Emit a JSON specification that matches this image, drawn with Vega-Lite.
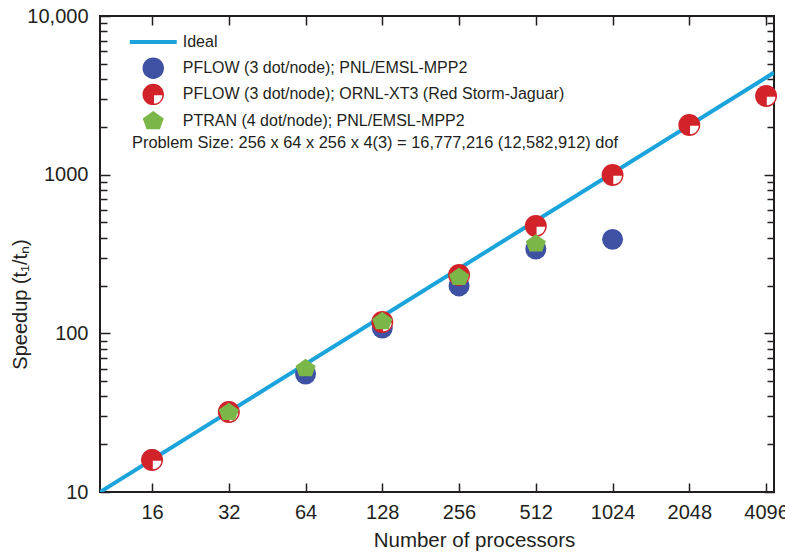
{
  "$schema": "https://vega.github.io/schema/vega-lite/v6.json",
  "width": 674,
  "height": 476,
  "autosize": {"type": "none"},
  "padding": {"left": 100, "top": 16, "right": 11, "bottom": 66},
  "background": "white",
  "config": {
    "font": "Liberation Sans",
    "view": {"stroke": "#231F20", "strokeWidth": 2},
    "axis": {"grid": false, "domain": false, "labelFont": "Liberation Sans", "titleFont": "Liberation Sans", "labelColor": "#231F20", "titleColor": "#231F20", "tickColor": "#231F20", "tickWidth": 1.5, "labelOverlap": false, "labelFlush": false, "labelBound": false, "titleFontWeight": "normal"}
  },
  "datasets": {
    "ideal": [
      {"series": "Ideal", "x": 10, "y": 10},
      {"series": "Ideal", "x": 4400, "y": 4400}
    ],
    "pts": [
      {"series": "PFLOW (3 dot/node); PNL/EMSL-MPP2", "x": 16, "y": 16},
      {"series": "PFLOW (3 dot/node); PNL/EMSL-MPP2", "x": 32, "y": 32},
      {"series": "PFLOW (3 dot/node); PNL/EMSL-MPP2", "x": 64, "y": 55.4},
      {"series": "PFLOW (3 dot/node); PNL/EMSL-MPP2", "x": 128, "y": 108},
      {"series": "PFLOW (3 dot/node); PNL/EMSL-MPP2", "x": 256, "y": 199},
      {"series": "PFLOW (3 dot/node); PNL/EMSL-MPP2", "x": 512, "y": 340},
      {"series": "PFLOW (3 dot/node); PNL/EMSL-MPP2", "x": 1024, "y": 391},
      {"series": "PFLOW (3 dot/node); ORNL-XT3 (Red Storm-Jaguar)", "x": 16, "y": 15.9},
      {"series": "PFLOW (3 dot/node); ORNL-XT3 (Red Storm-Jaguar)", "x": 32, "y": 31.9},
      {"series": "PFLOW (3 dot/node); ORNL-XT3 (Red Storm-Jaguar)", "x": 128, "y": 118},
      {"series": "PFLOW (3 dot/node); ORNL-XT3 (Red Storm-Jaguar)", "x": 256, "y": 233},
      {"series": "PFLOW (3 dot/node); ORNL-XT3 (Red Storm-Jaguar)", "x": 512, "y": 475},
      {"series": "PFLOW (3 dot/node); ORNL-XT3 (Red Storm-Jaguar)", "x": 1024, "y": 995},
      {"series": "PFLOW (3 dot/node); ORNL-XT3 (Red Storm-Jaguar)", "x": 2048, "y": 2056},
      {"series": "PFLOW (3 dot/node); ORNL-XT3 (Red Storm-Jaguar)", "x": 4096, "y": 3131},
      {"series": "PTRAN (4 dot/node); PNL/EMSL-MPP2", "x": 32, "y": 32},
      {"series": "PTRAN (4 dot/node); PNL/EMSL-MPP2", "x": 64, "y": 60.4},
      {"series": "PTRAN (4 dot/node); PNL/EMSL-MPP2", "x": 128, "y": 119.6},
      {"series": "PTRAN (4 dot/node); PNL/EMSL-MPP2", "x": 256, "y": 227.5},
      {"series": "PTRAN (4 dot/node); PNL/EMSL-MPP2", "x": 512, "y": 369}
    ],
    "note": [
      {"x": 13.35, "y": 1583, "label": "Problem Size: 256 x 64 x 256 x 4(3) = 16,777,216 (12,582,912) dof"}
    ]
  },
  "layer": [
    {
      "data": {"name": "ideal"},
      "mark": {"type": "line", "strokeWidth": 4, "clip": true},
      "encoding": {
        "x": {"field": "x", "type": "quantitative",
          "scale": {"type": "log", "base": 2, "domain": [10, 4400], "nice": false},
          "axis": {"orient": "top", "values": [16, 32, 64, 128, 256, 512, 1024, 2048, 4096], "tickSize": -9, "labels": false, "title": null}},
        "y": {"field": "y", "type": "quantitative",
          "scale": {"type": "log", "domain": [10, 10000], "nice": false},
          "axis": {"orient": "right", "values": [10,20,30,40,50,60,70,80,90,100,200,300,400,500,600,700,800,900,1000,2000,3000,4000,5000,6000,7000,8000,9000,10000],
            "tickSize": {"condition": {"test": "indexof([10,100,1000,10000], datum.value) >= 0", "value": -10}, "value": -7},
            "labels": false, "title": null}},
        "color": {"field": "series", "type": "nominal",
          "scale": {"domain": ["Ideal", "PFLOW (3 dot/node); PNL/EMSL-MPP2", "PFLOW (3 dot/node); ORNL-XT3 (Red Storm-Jaguar)", "PTRAN (4 dot/node); PNL/EMSL-MPP2"],
            "range": ["#1BA3DC", "#3F51A2", "#D2232A", "#7AB648"]},
          "legend": {
            "orient": "none", "legendX": 27, "legendY": 14.5, "title": null, "padding": 0,
            "symbolSize": 460, "clipHeight": 23, "symbolOffset": 18.25, "labelFontSize": 16, "labelFont": "Liberation Sans", "labelColor": "#231F20",
            "labelOffset": 21.5, "rowPadding": 3.2, "symbolOpacity": 1, "labelLimit": 600,
            "encode": {"symbols": {"update": {
              "shape": {"signal": "datum.value === 'Ideal' ? 'stroke' : datum.value === 'PFLOW (3 dot/node); PNL/EMSL-MPP2' ? 'circle' : datum.value === 'PTRAN (4 dot/node); PNL/EMSL-MPP2' ? 'M 0 -0.9 L 0.98 -0.2 L 0.62 0.8 L -0.62 0.8 L -0.98 -0.2 Z' : 'M 1 0 A 1 1 0 1 1 -1 0 A 1 1 0 1 1 1 0 Z M 0.07 0.07 L 0.07 0.85 A 0.78 0.78 0 0 0 0.85 0.07 Z'"},
              "size": {"signal": "datum.value === 'Ideal' ? 2209 : 460"},
              "fill": {"signal": "datum.value === 'Ideal' ? 'transparent' : scale('color', datum.value)"},
              "stroke": {"signal": "datum.value === 'Ideal' ? '#1BA3DC' : 'transparent'"},
              "strokeWidth": {"signal": "datum.value === 'Ideal' ? 4 : 0"},
              "opacity": {"value": 1}
            }}}
          }}
      }
    },
    {
      "data": {"name": "pts"},
      "transform": [{"filter": "datum.series === 'PFLOW (3 dot/node); PNL/EMSL-MPP2'"}],
      "mark": {"type": "point", "filled": true, "opacity": 1, "size": 440, "shape": "circle"},
      "encoding": {
        "x": {"field": "x", "type": "quantitative",
          "scale": {"type": "log", "base": 2, "domain": [10, 4400], "nice": false},
          "axis": {"orient": "bottom", "values": [16, 32, 64, 128, 256, 512, 1024, 2048, 4096], "tickSize": -9,
            "labelFontSize": 20, "labelPadding": 19, "labelExpr": "datum.value + ''",
            "title": "Number of processors", "titleFontSize": 20.5, "titleX": 374, "titleY": 48, "titleBaseline": "middle", "titleAnchor": "middle"}},
        "y": {"field": "y", "type": "quantitative",
          "scale": {"type": "log", "domain": [10, 10000], "nice": false},
          "axis": {"orient": "left", "values": [10,20,30,40,50,60,70,80,90,100,200,300,400,500,600,700,800,900,1000,2000,3000,4000,5000,6000,7000,8000,9000,10000],
            "tickSize": {"condition": {"test": "indexof([10,100,1000,10000], datum.value) >= 0", "value": -10}, "value": -7},
            "labelFontSize": 20, "labelPadding": 22,
            "labelExpr": "datum.value === 10000 ? '10,000' : (indexof([10,100,1000], datum.value) >= 0 ? datum.value + '' : '')",
            "title": "Speedup (t₁/tₙ)", "titleFontSize": 20, "titleX": -80, "titleY": 288, "titleBaseline": "middle", "titleAnchor": "middle"}},
        "color": {"field": "series", "type": "nominal",
          "scale": {"domain": ["Ideal", "PFLOW (3 dot/node); PNL/EMSL-MPP2", "PFLOW (3 dot/node); ORNL-XT3 (Red Storm-Jaguar)", "PTRAN (4 dot/node); PNL/EMSL-MPP2"],
            "range": ["#1BA3DC", "#3F51A2", "#D2232A", "#7AB648"]}}
      }
    },
    {
      "data": {"name": "pts"},
      "transform": [{"filter": "datum.series === 'PFLOW (3 dot/node); ORNL-XT3 (Red Storm-Jaguar)'"}],
      "mark": {"type": "point", "filled": true, "opacity": 1, "size": 480, "shape": "circle"},
      "encoding": {
        "x": {"field": "x", "type": "quantitative", "scale": {"type": "log", "base": 2, "domain": [10, 4400], "nice": false}, "axis": null},
        "y": {"field": "y", "type": "quantitative", "scale": {"type": "log", "domain": [10, 10000], "nice": false}, "axis": null},
        "color": {"field": "series", "type": "nominal",
          "scale": {"domain": ["Ideal", "PFLOW (3 dot/node); PNL/EMSL-MPP2", "PFLOW (3 dot/node); ORNL-XT3 (Red Storm-Jaguar)", "PTRAN (4 dot/node); PNL/EMSL-MPP2"],
            "range": ["#1BA3DC", "#3F51A2", "#D2232A", "#7AB648"]}}
      }
    },
    {
      "data": {"name": "pts"},
      "transform": [{"filter": "datum.series === 'PFLOW (3 dot/node); ORNL-XT3 (Red Storm-Jaguar)'"}],
      "mark": {"type": "point", "filled": true, "opacity": 1, "size": 480, "fill": "white", "stroke": null,
        "shape": "M 0.07 0.07 L 0.85 0.07 A 0.78 0.78 0 0 1 0.07 0.85 Z"},
      "encoding": {
        "x": {"field": "x", "type": "quantitative", "scale": {"type": "log", "base": 2, "domain": [10, 4400], "nice": false}, "axis": null},
        "y": {"field": "y", "type": "quantitative", "scale": {"type": "log", "domain": [10, 10000], "nice": false}, "axis": null}
      }
    },
    {
      "data": {"name": "pts"},
      "transform": [{"filter": "datum.series === 'PTRAN (4 dot/node); PNL/EMSL-MPP2'"}],
      "mark": {"type": "point", "filled": true, "opacity": 1, "size": 420,
        "shape": "M 0 -0.9 L 0.98 -0.2 L 0.62 0.8 L -0.62 0.8 L -0.98 -0.2 Z"},
      "encoding": {
        "x": {"field": "x", "type": "quantitative", "scale": {"type": "log", "base": 2, "domain": [10, 4400], "nice": false}, "axis": null},
        "y": {"field": "y", "type": "quantitative", "scale": {"type": "log", "domain": [10, 10000], "nice": false}, "axis": null},
        "color": {"field": "series", "type": "nominal",
          "scale": {"domain": ["Ideal", "PFLOW (3 dot/node); PNL/EMSL-MPP2", "PFLOW (3 dot/node); ORNL-XT3 (Red Storm-Jaguar)", "PTRAN (4 dot/node); PNL/EMSL-MPP2"],
            "range": ["#1BA3DC", "#3F51A2", "#D2232A", "#7AB648"]}}
      }
    },
    {
      "data": {"name": "note"},
      "mark": {"type": "text", "align": "left", "baseline": "middle", "fontSize": 16.4, "font": "Liberation Sans", "color": "#231F20"},
      "encoding": {
        "x": {"field": "x", "type": "quantitative", "scale": {"type": "log", "base": 2, "domain": [10, 4400], "nice": false}, "axis": null},
        "y": {"field": "y", "type": "quantitative", "scale": {"type": "log", "domain": [10, 10000], "nice": false}, "axis": null},
        "text": {"field": "label"}
      }
    }
  ],
  "resolve": {"axis": {"x": "independent", "y": "independent"}}
}
